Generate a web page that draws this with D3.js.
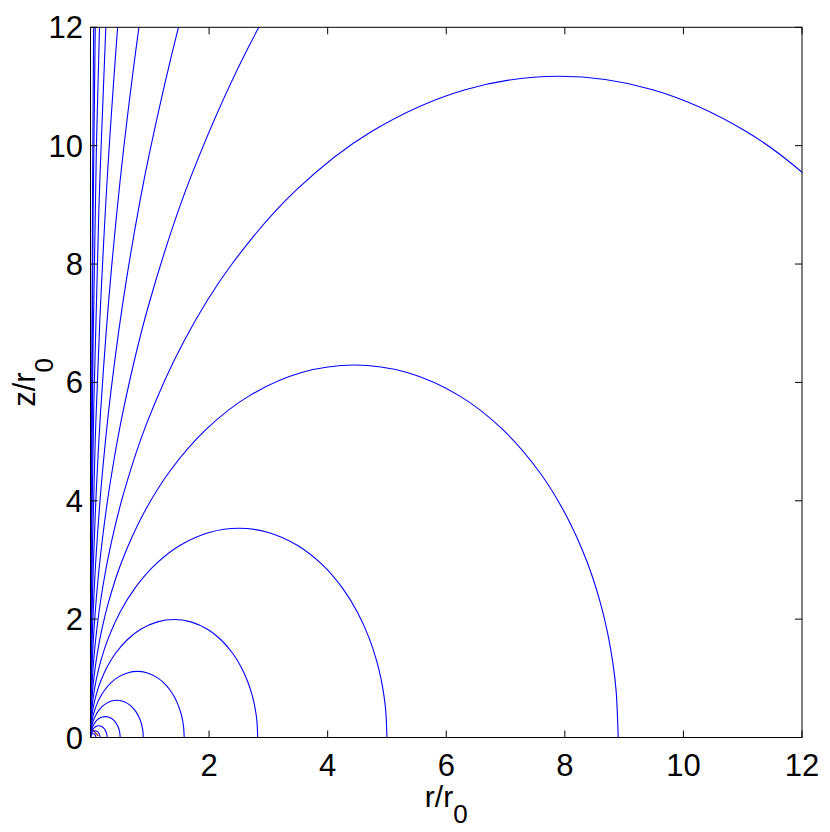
<!DOCTYPE html>
<html>
<head>
<meta charset="utf-8">
<script src="https://cdn.jsdelivr.net/npm/d3@7"></script>
<style>
  html, body { margin: 0; padding: 0; background: #fff; }
  svg { display: block; }
  text { font-family: "Liberation Sans", Arial, Helvetica, sans-serif; fill: #000; }
</style>
</head>
<body>
<svg id="chart" width="830" height="832"></svg>
<script>
// Ground crossing radius (r/r0) of each field line
const crossings = [0.09, 0.16, 0.28, 0.5, 0.89, 1.58, 2.82, 5.0, 8.9, 15.8, 28.2, 50, 89, 158, 282, 500, 890, 1580];
// Normalised profile of one line (r/R, z/R), read from the R = 8.9 line
const shapeU = [0, 0.00005, 0.0002, 0.0005, 0.001, 0.002, 0.004, 0.007, 0.012, 0.02, 0.035, 0.06, 0.1, 0.15, 0.22, 0.3, 0.4, 0.5, 0.6, 0.7, 0.78, 0.85, 0.9, 0.94, 0.965, 0.98, 0.99, 0.996, 1];
const shapeV = [0, 0.0100, 0.0200, 0.0316, 0.0447, 0.0632, 0.0893, 0.1179, 0.1540, 0.1980, 0.2599, 0.3359, 0.4243, 0.5050, 0.5858, 0.6481, 0.6928, 0.7071, 0.6928, 0.6481, 0.5858, 0.5050, 0.4243, 0.3359, 0.2599, 0.1980, 0.1407, 0.0893, 0];
// Small dark-red mark at the origin
const markR = [0.02, 0.13];
const markZ = [0.15, 0.03];
// Ticks
const xTicks = [2, 4, 6, 8, 10, 12];
const yTicks = [0, 2, 4, 6, 8, 10, 12];

const svg = d3.select("#chart");
const L = 90.5, R = 802, T = 27.3, B = 737.5;
const x = d3.scaleLinear().domain([0, 12]).range([L, R]);
const y = d3.scaleLinear().domain([0, 12]).range([B, T]);

svg.append("defs").append("clipPath").attr("id", "clip")
  .append("rect").attr("x", L).attr("y", T).attr("width", R - L).attr("height", B - T);

const plot = svg.append("g").attr("clip-path", "url(#clip)");

// origin mark
plot.append("line")
  .attr("x1", x(markR[0])).attr("y1", y(markZ[0]))
  .attr("x2", x(markR[1])).attr("y2", y(markZ[1]))
  .attr("stroke", "#a03020").attr("stroke-width", 1.3);

const line = d3.line()
  .x(d => x(d[0])).y(d => y(d[1]))
  .curve(d3.curveCatmullRom.alpha(0.5));

crossings.forEach(Rc => {
  const pts = shapeU.map((u, i) => [u * Rc, shapeV[i] * Rc]);
  plot.append("path")
    .attr("d", line(pts))
    .attr("fill", "none")
    .attr("stroke", "#0000ff")
    .attr("stroke-width", 1.1);
});

// box
svg.append("rect").attr("x", L).attr("y", T).attr("width", R - L).attr("height", B - T)
  .attr("fill", "none").attr("stroke", "#000").attr("stroke-width", 1);

const tl = 7;
const axisG = svg.append("g").attr("stroke", "#000").attr("stroke-width", 1);
xTicks.forEach(t => {
  axisG.append("line").attr("x1", x(t)).attr("x2", x(t)).attr("y1", B).attr("y2", B - tl);
  axisG.append("line").attr("x1", x(t)).attr("x2", x(t)).attr("y1", T).attr("y2", T + tl);
});
yTicks.forEach(t => {
  axisG.append("line").attr("x1", L).attr("x2", L + tl).attr("y1", y(t)).attr("y2", y(t));
  axisG.append("line").attr("x1", R).attr("x2", R - tl).attr("y1", y(t)).attr("y2", y(t));
});

const fs = 31;
svg.append("g").selectAll("text").data(xTicks).join("text")
  .attr("x", d => x(d)).attr("y", 776)
  .attr("text-anchor", "middle").attr("font-size", fs)
  .text(d => d);

svg.append("g").selectAll("text").data(yTicks).join("text")
  .attr("x", 83).attr("y", d => y(d) + 11)
  .attr("text-anchor", "end").attr("font-size", fs)
  .text(d => d);

// x label r/r0
const xl = svg.append("text").attr("x", x(6)).attr("y", 807)
  .attr("text-anchor", "middle").attr("font-size", 30);
xl.append("tspan").text("r/r");
xl.append("tspan").attr("dy", 16).attr("font-size", 26).text("0");

// y label z/r0
const yl = svg.append("text")
  .attr("transform", `translate(35, ${(T + B) / 2}) rotate(-90)`)
  .attr("text-anchor", "middle").attr("font-size", fs);
yl.append("tspan").text("z/r");
yl.append("tspan").attr("dy", 18).attr("font-size", 26).text("0");
</script>
</body>
</html>
